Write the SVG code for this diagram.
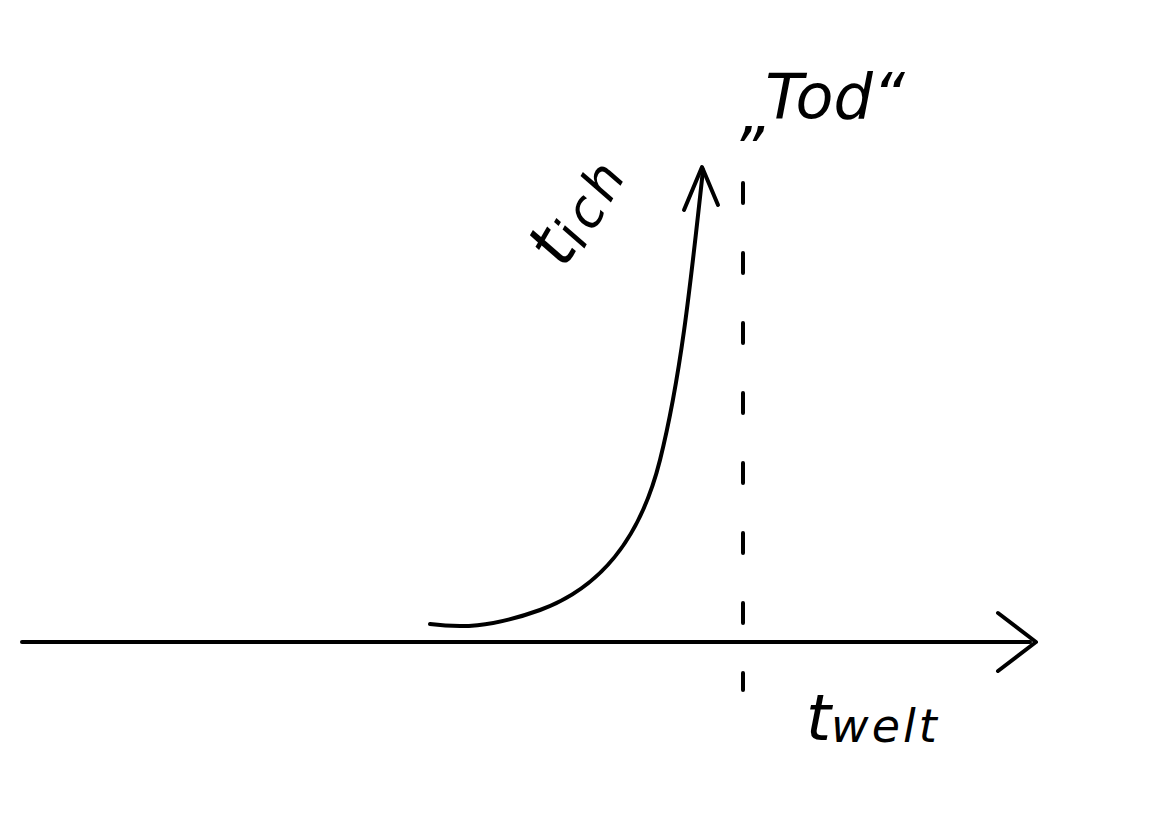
<svg xmlns="http://www.w3.org/2000/svg" width="1170" height="840" viewBox="0 0 1170 840">
<style>
.ln{fill:none;stroke:#000;stroke-width:4;stroke-linecap:round;stroke-linejoin:round}
.tx{font-family:"DejaVu Sans","Liberation Sans",sans-serif;font-style:oblique;fill:#000}
</style>
<rect width="1170" height="840" fill="#fff"/>
<g id="connectors">
<path class="ln" d="M22,642 L1030,642"/>
<path class="ln" d="M998,613 L1036,642 L998,671"/>
<path class="ln" d="M743,183 L743,690" stroke-dasharray="20,50" stroke-linecap="butt"/>
<path class="ln" d="M430,624 C460,628 490,628 540,610 C600,588 640,540 660,460 C680,380 690,290 703,170"/>
<path class="ln" d="M684,210 L702,167 L718,205"/>
</g>
<g id="t_ich">
<text class="tx" transform="translate(565,270) rotate(-60)" font-size="68">t<tspan font-size="52" dy="6" letter-spacing="5">ich</tspan></text>
</g>
<g id="tod">
<text class="tx" x="740" y="134" font-size="62">„<tspan dy="-16">Tod“</tspan></text>
</g>
<g id="t_welt">
<text class="tx" x="806" y="740" font-size="64">t<tspan font-size="46" dy="2" letter-spacing="3">welt</tspan></text>
</g>
</svg>
